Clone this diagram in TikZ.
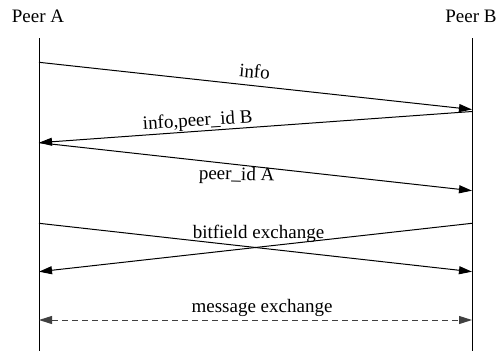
\documentclass[tikz,border=0pt]{standalone}
\usepackage{fontspec}
\setmainfont{Liberation Serif}
\usetikzlibrary{arrows.meta}
\begin{document}
\begin{tikzpicture}[x=1pt,y=-1pt,
  lbl/.style={inner sep=0pt,anchor=base,font=\fontsize{19}{22}\selectfont},
  life/.style={line width=1pt},
  msg/.style={line width=1pt,-{Triangle[length=13pt,width=8pt]}},
  dmsg/.style={line width=1pt,draw=black!75,dash pattern=on 6pt off 4pt,{Triangle[length=13pt,width=8pt]}-{Triangle[length=13pt,width=8pt]}}]
\useasboundingbox (0,0) rectangle (499,351);
\node[lbl] (pa) at (38,22.5) {Peer A};
\node[lbl] (pb) at (471,22.5) {Peer B};
\coordinate (at) at (39,38);
\coordinate (ab) at (39,351);
\coordinate (bt) at (472,38);
\coordinate (bb) at (472,351);
\draw[life] (at) -- (ab);
\draw[life] (bt) -- (bb);
% coordinates on lifelines
\coordinate (a1) at (39,62.3);
\coordinate (b1) at (472,109.5);
\coordinate (b2) at (472,111.5);
\coordinate (a2) at (39,142.7);
\coordinate (b3) at (472,190.7);
\coordinate (a4) at (39,223.3);
\coordinate (b4) at (472,223.3);
\coordinate (a5) at (39,271.7);
\coordinate (b5) at (472,271.7);
\coordinate (a6) at (39,320);
\coordinate (b6) at (472,320);
\draw[msg] (a1) -- (b1);
\draw[msg] (b2) -- (a2);
\draw[msg] (a2) -- (b3);
\draw[msg] (a4) -- (b5);
\draw[msg] (b4) -- (a5);
\draw[dmsg] (a6) -- (b6);
\node[lbl,rotate=-5] (l1) at (254,78) {info};
\node[lbl,rotate=3.5] (l2) at (198,126) {info,peer\_id B};
\node[lbl,rotate=-1.5] (l3) at (236.5,180) {peer\_id A};
\node[lbl] (l4) at (258.5,238) {bitfield exchange};
\node[lbl] (l5) at (262,312) {message exchange};
\end{tikzpicture}
\end{document}
